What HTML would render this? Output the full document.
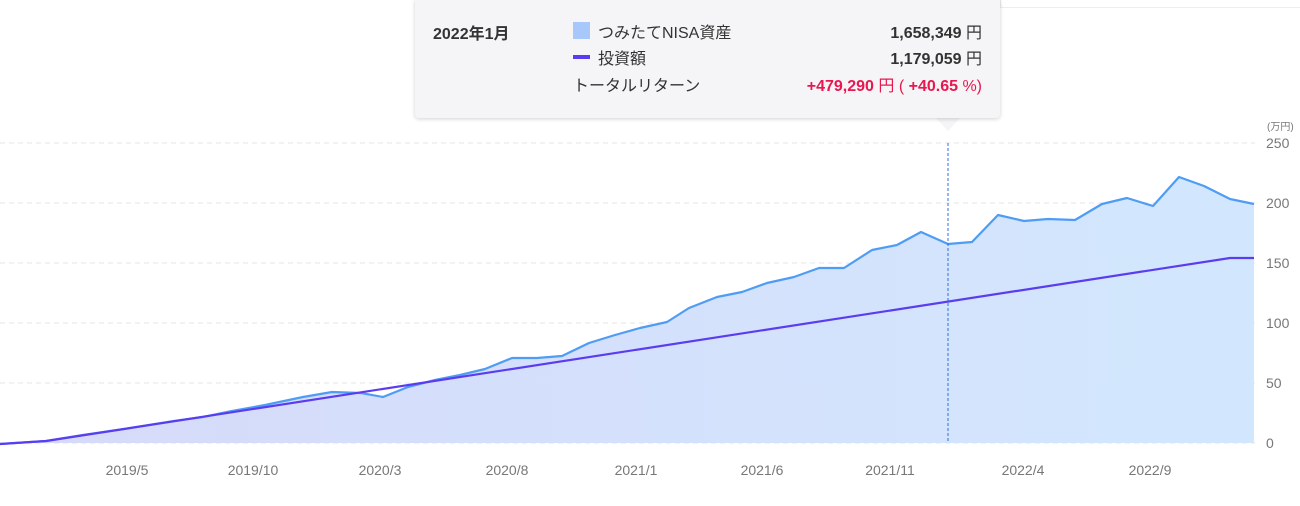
<!DOCTYPE html>
<html><head><meta charset="utf-8"><style>
body{margin:0;width:1300px;height:506px;background:#fff;overflow:hidden;font-family:"Liberation Sans","Noto Sans CJK JP",sans-serif;position:relative}
.tt{position:absolute;left:415px;top:-2px;width:585px;height:120px;background:#f5f5f7;border-radius:4px;box-shadow:0 1px 4px rgba(0,0,0,.18);color:#333;font-size:16px}
.tt div{position:absolute;white-space:nowrap}
.r{right:18px;text-align:right;font-weight:bold}
</style></head><body>
<div style="position:absolute;left:1000px;top:0;width:300px;height:7px;border-bottom:1px solid #eee;border-left:1px solid #eee"></div>
<svg width="1300" height="506" style="position:absolute;left:0;top:0">
<defs><linearGradient id="g" x1="0" x2="1" y1="0" y2="0"><stop offset="0" stop-color="#d6dafa"/><stop offset="1" stop-color="#d2e7fd"/></linearGradient></defs>
<g stroke="#e6e6e6" stroke-dasharray="5,4" stroke-width="1">
<line x1="0" x2="1255" y1="143" y2="143"/><line x1="0" x2="1255" y1="203" y2="203"/><line x1="0" x2="1255" y1="263" y2="263"/><line x1="0" x2="1255" y1="323" y2="323"/><line x1="0" x2="1255" y1="383" y2="383"/><line x1="0" x2="1255" y1="443" y2="443"/>
</g>
<polygon fill="url(#g)" points="0,444 46,441 83,435 124,429 174,421 203,417 232,411 265,405 303,397 332,392 361,393 383,397 408,387 435,380 460,375 485,369 512,358 537,358 562,356 589,343 615,335 640,328 667,322 689,308 717,297 742,292 767,283 794,277 819,268 844,268 872,250 897,245 921,232 948,244 972,242 998,215 1024,221 1048,219 1075,220 1102,204 1127,198 1153,206 1179,177 1204,186 1230,199 1254,204 1254,443 0,443"/>
<polyline fill="none" stroke="#4f9cf5" stroke-width="2.2" stroke-linejoin="round" points="0,444 46,441 83,435 124,429 174,421 203,417 232,411 265,405 303,397 332,392 361,393 383,397 408,387 435,380 460,375 485,369 512,358 537,358 562,356 589,343 615,335 640,328 667,322 689,308 717,297 742,292 767,283 794,277 819,268 844,268 872,250 897,245 921,232 948,244 972,242 998,215 1024,221 1048,219 1075,220 1102,204 1127,198 1153,206 1179,177 1204,186 1230,199 1254,204"/>
<polyline fill="none" stroke="#5b3cf0" stroke-width="2.2" points="0,444 46,441 1230,258 1254,258"/>
<line x1="948" x2="948" y1="143" y2="443" stroke="#2f6fd8" stroke-width="1" stroke-dasharray="3,2"/>
<polygon points="936,118 960,118 948,131" fill="#f5f5f7"/>
<g font-size="14" fill="#777" font-family="Liberation Sans,sans-serif">
<text x="1266" y="148">250</text><text x="1266" y="208">200</text><text x="1266" y="268">150</text><text x="1266" y="328">100</text><text x="1266" y="388">50</text><text x="1266" y="448">0</text>
<text x="1267" y="130" font-size="10" font-family="Liberation Sans,Noto Sans CJK JP,sans-serif">(万円)</text>
<g text-anchor="middle">
<text x="127" y="475">2019/5</text><text x="253" y="475">2019/10</text><text x="380" y="475">2020/3</text><text x="507" y="475">2020/8</text><text x="636" y="475">2021/1</text><text x="762" y="475">2021/6</text><text x="890" y="475">2021/11</text><text x="1023" y="475">2022/4</text><text x="1150" y="475">2022/9</text>
</g></g>
</svg>
<div class="tt">
<div style="left:18px;top:22px;font-weight:bold;font-size:16px">2022年1月</div>
<div style="left:158px;top:24px;width:17px;height:17px;background:#a8c8fb"></div>
<div style="left:183px;top:21px">つみたてNISA資産</div>
<div style="left:158px;top:57px;width:17px;height:4px;background:#5b3cf0"></div>
<div style="left:183px;top:47px">投資額</div>
<div style="left:158px;top:74px">トータルリターン</div>
<div class="r" style="top:21px">1,658,349 <span style="font-weight:normal">円</span></div>
<div class="r" style="top:47px">1,179,059 <span style="font-weight:normal">円</span></div>
<div class="r" style="top:74px;color:#e8174f">+479,290 <span style="font-weight:normal">円 (</span> +40.65 <span style="font-weight:normal">%)</span></div>
</div>
</body></html>
